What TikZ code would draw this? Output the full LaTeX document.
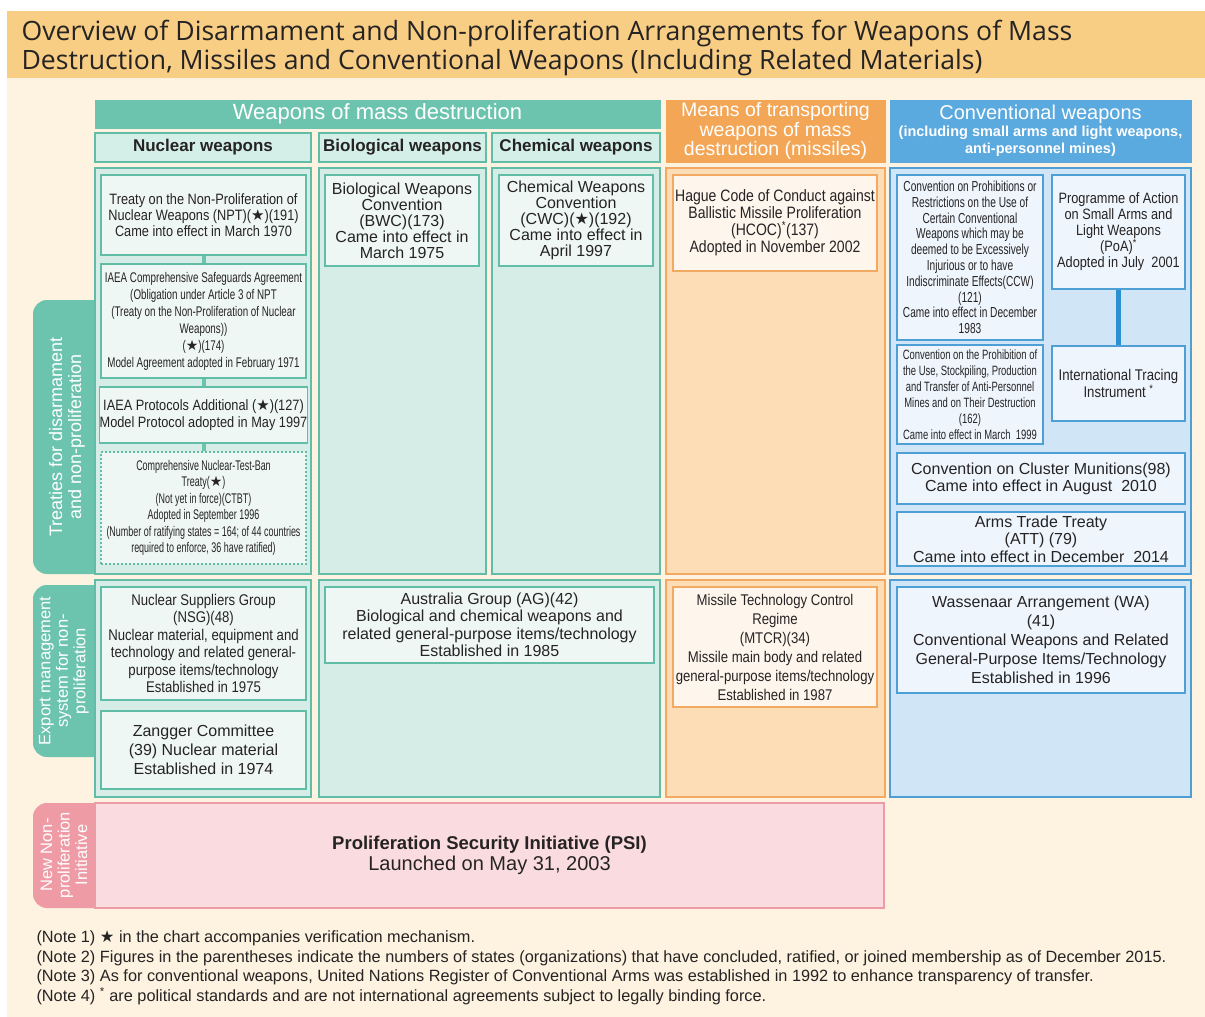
\documentclass[tikz,border=0pt]{standalone}
\usepackage{fontspec}
\setmainfont{Liberation Sans}
\newfontfamily\titlefont{Open Sans}
\newfontfamily\narrowfont[FakeStretch=0.85]{Liberation Sans}
\newfontfamily\condfont[FakeStretch=0.7]{Liberation Sans}
\newfontfamily\tightfont[FakeStretch=0.64]{Liberation Sans}
\newfontfamily\symfont{DejaVu Sans}
\newcommand{\vstar}{{\symfont\char"2605}}
\newcommand{\pol}{\textsuperscript{*}}
\newcommand{\fsz}[2]{\fontsize{#1}{#2}\selectfont}

\definecolor{creambg}{HTML}{FEF3E0}
\definecolor{titlebg}{HTML}{F8CD84}
\definecolor{txt}{HTML}{262324}
\definecolor{wmdhd}{HTML}{6CC4AE}
\definecolor{wmdbd}{HTML}{62BDA6}
\definecolor{wmdpn}{HTML}{D6ECE6}
\definecolor{wmdsb}{HTML}{D4EFE7}
\definecolor{wmdbx}{HTML}{EFF7F5}
\definecolor{mslhd}{HTML}{F4A657}
\definecolor{mslbd}{HTML}{F2AA62}
\definecolor{mslpn}{HTML}{FCDDB6}
\definecolor{mslbx}{HTML}{FEF6EC}
\definecolor{cnvhd}{HTML}{5AA9DF}
\definecolor{cnvbd}{HTML}{4E9FD6}
\definecolor{cnvpn}{HTML}{D0E5F6}
\definecolor{cnvbx}{HTML}{EEF5FC}
\definecolor{cnvlk}{HTML}{2A90D2}
\definecolor{psipn}{HTML}{FADCE0}
\definecolor{psibd}{HTML}{EC9CA5}
\definecolor{psitb}{HTML}{EE9BA5}

\begin{document}
\begin{tikzpicture}[x=1pt, y=-1pt,
  rect/.style n args={4}{at={({(#1+#3)/2},{(#2+#4)/2})},
    minimum width={#3-#1}, minimum height={#4-#2}, inner sep=0pt},
  hdr/.style={fill=#1hd, draw=#1hd, text=white, align=center},
  subhdr/.style={draw=wmdbd, fill=wmdsb, line width=1.3pt, text=txt, font=\bfseries\fsz{17}{17}},
  panel/.style={draw=#1bd, fill=#1pn, line width=1.5pt},
  box/.style={draw=#1bd, fill=#1bx, line width=1.3pt, align=center, text=txt},
  tablbl/.style={rotate=90, text=white, align=center},
  wmdlink/.style={draw=wmdhd, line width=4pt},
  cnvlink/.style={draw=cnvlk, line width=5pt}]
  \path[use as bounding box] (0,0) rectangle (1205,1017);
  \fill[creambg] (7,78) rectangle (1205,1017);
  \fill[titlebg] (7,11) rectangle (1205,78);
  \node[anchor=west, align=left, text=txt, font=\titlefont\fsz{26.6}{29.5}] (title) at (18,48)
    {Overview of Disarmament and Non-proliferation Arrangements for Weapons of Mass\\
     Destruction, Missiles and Conventional Weapons (Including Related Materials)};

  % side tabs
  \fill[wmdhd, rounded corners=14pt] (33,300) rectangle (120,574);
  \fill[wmdhd, rounded corners=14pt] (33,585) rectangle (120,757);
  \fill[psitb, rounded corners=14pt] (33,803) rectangle (120,908);

  % column heads
  \node[hdr=wmd, rect={95}{100}{660}{128}, font=\fsz{22}{22}] (wmd) {Weapons of mass destruction};
  \node[subhdr, rect={95}{133}{311}{162}] (nuc) {Nuclear weapons};
  \node[subhdr, rect={319}{133}{486}{162}] (bio) {Biological weapons};
  \node[subhdr, rect={492}{133}{660}{162}] (chem) {Chemical weapons};
  \node[hdr=msl, rect={666}{100}{885}{162}, font=\fsz{19.5}{17.5}] (msl)
    {Means of transporting\\weapons of mass\\destruction (missiles)};
  \node[hdr=cnv, rect={890}{100}{1191}{162}, font=\bfseries\fsz{14.5}{17}] (cnv)
    {{\mdseries\fsz{20}{20}Conventional weapons}\\(including small arms and light weapons,\\anti-personnel mines)};

  % panels
  \node[panel=wmd, rect={95}{168}{311}{574}] (nucp) {};
  \node[panel=wmd, rect={319}{168}{486}{574}] (biop) {};
  \node[panel=wmd, rect={492}{168}{660}{574}] (chemp) {};
  \node[panel=msl, rect={666}{168}{885}{574}] (mslp) {};
  \node[panel=cnv, rect={890}{168}{1191}{574}] (cnvp) {};
  \node[panel=wmd, rect={95}{580}{311}{797}] (nucx) {};
  \node[panel=wmd, rect={319}{580}{660}{797}] (bcx) {};
  \node[panel=msl, rect={666}{580}{885}{797}] (mslx) {};
  \node[panel=cnv, rect={890}{580}{1191}{797}] (cnvx) {};
  \node[panel=psi, rect={95}{803}{884}{908}, text=txt, align=center, font=\fsz{20}{20.5}] (psi)
    {{\bfseries\fsz{18.5}{20}Proliferation Security Initiative (PSI)}\\Launched on May 31, 2003};

  % treaties
  \node[box=wmd, rect={101}{175}{306}{255}, font=\narrowfont\fsz{15}{16}] (npt)
    {Treaty on the Non-Proliferation of\\Nuclear Weapons (NPT)(\vstar)(191)\\Came into effect in March 1970};
  \node[box=wmd, rect={101}{264}{306}{378}, font=\condfont\fsz{14}{17}] (csa)
    {IAEA Comprehensive Safeguards Agreement\\(Obligation under Article 3 of NPT\\(Treaty on the Non-Proliferation of Nuclear\\Weapons))\\(\vstar)(174)\\Model Agreement adopted in February 1971};
  \node[box=wmd, rect={101}{387}{306}{443}, font=\narrowfont\fsz{15}{17}] (ap)
    {IAEA Protocols Additional (\vstar)(127)\\Model Protocol adopted in May 1997};
  \node[box=wmd, dashed, dash pattern=on 2pt off 2pt, rect={101}{452}{306}{564}, font=\tightfont\fsz{14}{16.5}] (ctbt)
    {Comprehensive Nuclear-Test-Ban\\Treaty(\vstar)\\(Not yet in force)(CTBT)\\Adopted in September 1996\\(Number of ratifying states = 164; of 44 countries\\required to enforce, 36 have ratified)};
  \draw[wmdlink] (npt) -- (csa);
  \draw[wmdlink] (csa) -- (ap);
  \draw[wmdlink] (ap) -- (ctbt);
  \node[box=wmd, rect={325}{175}{479}{266}, font=\fsz{16}{16}] (bwc)
    {Biological Weapons\\Convention\\(BWC)(173)\\Came into effect in\\March 1975};
  \node[box=wmd, rect={499}{175}{653}{266}, font=\fsz{16}{16}] (cwc)
    {Chemical Weapons\\Convention\\(CWC)(\vstar)(192)\\Came into effect in\\April 1997};
  \node[box=msl, rect={673}{175}{877}{271}, font=\narrowfont\fsz{16.5}{17}] (hcoc)
    {Hague Code of Conduct against\\Ballistic Missile Proliferation\\(HCOC)\pol(137)\\Adopted in November 2002};
  \node[box=cnv, rect={897}{175}{1043}{340}, font=\condfont\fsz{14.5}{15.8}] (ccw)
    {Convention on Prohibitions or\\Restrictions on the Use of\\Certain Conventional\\Weapons which may be\\deemed to be Excessively\\Injurious or to have\\Indiscriminate Effects(CCW)\\(121)\\Came into effect in December\\1983};
  \node[box=cnv, rect={1052}{175}{1185}{289}, font=\narrowfont\fsz{15}{16}] (poa)
    {Programme of Action\\on Small Arms and\\Light Weapons\\(PoA)\pol\\Adopted in July~~2001};
  \node[box=cnv, rect={1052}{346}{1185}{421}, font=\narrowfont\fsz{15.5}{16.5}] (iti)
    {International Tracing\\Instrument \pol};
  \draw[cnvlink] (poa) -- (iti);
  \node[box=cnv, rect={897}{345}{1043}{444}, font=\condfont\fsz{13.5}{16}] (apm)
    {Convention on the Prohibition of\\the Use, Stockpiling, Production\\and Transfer of Anti-Personnel\\Mines and on Their Destruction\\(162)\\Came into effect in March~~1999};
  \node[box=cnv, rect={897}{453}{1185}{504}, font=\fsz{16}{17}] (ccm)
    {Convention on Cluster Munitions(98)\\Came into effect in August~~2010};
  \node[box=cnv, rect={897}{512}{1185}{566}, font=\fsz{16}{17.5}] (att)
    {Arms Trade Treaty\\(ATT) (79)\\Came into effect in December~~2014};

  % export control
  \node[box=wmd, rect={101}{587}{306}{700}, font=\narrowfont\fsz{15.5}{17.5}] (nsg)
    {Nuclear Suppliers Group\\(NSG)(48)\\Nuclear material, equipment and\\technology and related general-\\purpose items/technology\\Established in 1975};
  \node[box=wmd, rect={101}{711}{306}{789}, font=\fsz{16}{19}] (zc)
    {Zangger Committee\\(39) Nuclear material\\Established in 1974};
  \node[box=wmd, rect={325}{587}{654}{663}, font=\fsz{16}{17.5}] (ag)
    {Australia Group (AG)(42)\\Biological and chemical weapons and\\related general-purpose items/technology\\Established in 1985};
  \node[box=msl, rect={673}{587}{877}{707}, font=\narrowfont\fsz{15.5}{19}] (mtcr)
    {Missile Technology Control\\Regime\\(MTCR)(34)\\Missile main body and related\\general-purpose items/technology\\Established in 1987};
  \node[box=cnv, rect={897}{587}{1185}{693}, font=\fsz{16}{19}] (wa)
    {Wassenaar Arrangement (WA)\\(41)\\Conventional Weapons and Related\\General-Purpose Items/Technology\\Established in 1996};

  % tab labels
  \node[tablbl, font=\fsz{18}{19}] (treatylbl) at (67,437) {Treaties for disarmament\\and non-proliferation};
  \node[tablbl, font=\fsz{16.5}{17.5}] (exportlbl) at (64,671) {Export management\\system for non-\\proliferation};
  \node[tablbl, font=\fsz{16.5}{17.5}] (newlbl) at (64,855) {New Non-\\proliferation\\Initiative};

  % notes
  \node[anchor=west, align=left, text=txt, font=\fsz{16.3}{19.5}] (notes) at (33,968)
    {(Note 1) \vstar{} in the chart accompanies verification mechanism.\\
     (Note 2) Figures in the parentheses indicate the numbers of states (organizations) that have concluded, ratified, or joined membership as of December 2015.\\
     (Note 3) As for conventional weapons, United Nations Register of Conventional Arms was established in 1992 to enhance transparency of transfer.\\
     (Note 4) \pol{} are political standards and are not international agreements subject to legally binding force.};
\end{tikzpicture}
\end{document}
